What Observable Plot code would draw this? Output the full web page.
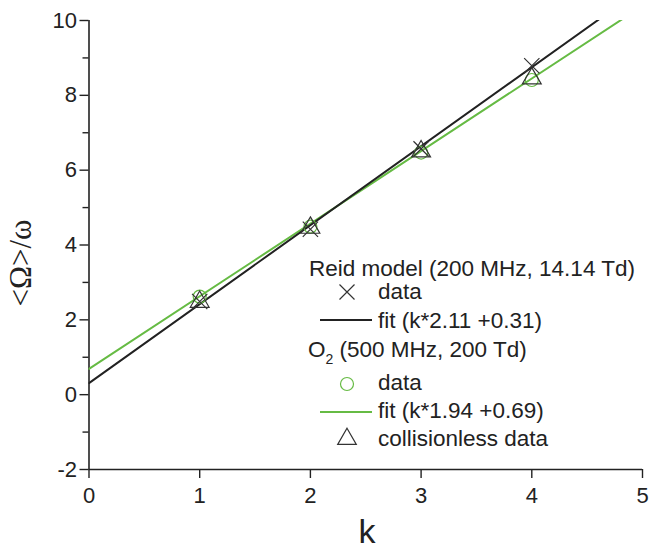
<!DOCTYPE html>
<html><head><meta charset="utf-8">
<script src="https://cdn.jsdelivr.net/npm/d3@7"></script>
<script src="https://cdn.jsdelivr.net/npm/@observablehq/plot@0.6"></script>
<style>
body{margin:0;background:#fff}
#chart{position:relative;width:649px;height:551px}
</style>
</head><body><div id="chart"></div>
<script>
// ---- data ----
const kValues = [1, 2, 3, 4];
const reidData = [2.49, 4.42, 6.57, 8.79];
const o2Data = [2.62, 4.49, 6.47, 8.41];
const collisionlessData = [2.48, 4.46, 6.50, 8.45];
const reidFitParams = [2.11, 0.31];   // slope, intercept
const o2FitParams = [1.94, 0.69];
const fitK = [0, 5];
const xTicks = [0, 1, 2, 3, 4, 5];
const yTicks = [-2, 0, 2, 4, 6, 8, 10];
const yMinorTicks = [-1, 1, 3, 5, 7, 9];
const legendHeaders = ["Reid model (200 MHz, 14.14 Td)", "O", "2", " (500 MHz, 200 Td)"];
const legendItems = ["data", "fit (k*2.11 +0.31)", "data", "fit (k*1.94 +0.69)", "collisionless data"];
const xLabel = "k";
const yLabel = "<Ω>/ω";

const GREEN = "#66bb44";
const BLACK = "#222222";

const pts = (ys) => kValues.map((k, i) => ({k, v: ys[i]}));
const fitLine = ([a, b]) => fitK.map(k => ({k, v: a * k + b}));

const W = 649, H = 551;
const plot = Plot.plot({
  width: W, height: H,
  marginLeft: 88.5, marginRight: 7, marginTop: 20, marginBottom: 82,
  style: {fontFamily: "'Liberation Sans', Arial, sans-serif", fontSize: "22px", color: BLACK, background: "#fff"},
  x: {domain: [0, 5], label: null},
  y: {domain: [-2, 10], label: null},
  marks: [
    Plot.axisX({ticks: xTicks, tickSize: 9, tickPadding: 9, strokeWidth: 1.4, label: null, tickFormat: d => String(d)}),
    Plot.axisY({ticks: yTicks, tickSize: 9, tickPadding: 3, strokeWidth: 1.4, label: null, tickFormat: d => String(d)}),
    Plot.axisY({ticks: yMinorTicks, tickSize: 6, strokeWidth: 1.4, text: null, label: null}),
    Plot.ruleX([0], {stroke: BLACK, strokeWidth: 1.6}),
    Plot.ruleY([-2], {stroke: BLACK, strokeWidth: 1.6}),
    Plot.line(fitLine(o2FitParams), {x: "k", y: "v", stroke: GREEN, strokeWidth: 2, clip: true}),
    Plot.line(fitLine(reidFitParams), {x: "k", y: "v", stroke: BLACK, strokeWidth: 2, clip: true}),
    Plot.dot(pts(o2Data), {x: "k", y: "v", r: 6.5, stroke: GREEN, strokeWidth: 1.2, fill: "none"}),
    Plot.dot(pts(collisionlessData), {x: "k", y: "v", symbol: "triangle", r: 7, stroke: "#333", strokeWidth: 1.2, fill: "none"}),
    Plot.dot(pts(reidData), {x: "k", y: "v", symbol: "times", r: 7, stroke: "#333", strokeWidth: 1.2, fill: "none"})
  ]
});
document.getElementById("chart").appendChild(plot);

const svg = d3.select(plot);
// axis labels
svg.append("text").attr("x", 367).attr("y", 543).attr("text-anchor", "middle")
  .style("font-family", "'Liberation Sans', Arial, sans-serif").style("font-size", "34px").attr("fill", BLACK).text(xLabel);
svg.append("text").attr("transform", "translate(31,263) rotate(-90)").attr("text-anchor", "middle")
  .attr("font-family", "'Times New Roman', 'Liberation Serif', serif")
  .style("font-family", "'Times New Roman', 'Liberation Serif', serif").style("font-size", "31px").attr("fill", BLACK).text(yLabel);

// legend
const lg = svg.append("g").attr("text-anchor", "start")
  .style("font-family", "'Liberation Sans', Arial, sans-serif").style("font-size", "22.5px").attr("fill", BLACK);
lg.append("text").attr("text-anchor", "start").attr("x", 309).attr("y", 276).text(legendHeaders[0]);
const o2t = lg.append("text").attr("text-anchor", "start").attr("x", 308).attr("y", 357);
o2t.append("tspan").text(legendHeaders[1]);
o2t.append("tspan").attr("dy", 7).style("font-size", "14px").text(legendHeaders[2]);
o2t.append("tspan").attr("dy", -7).text(legendHeaders[3]);
const itemY = [299, 328, 390, 418, 446];
const tx = 378;
legendItems.forEach((t, i) => lg.append("text").attr("text-anchor", "start").attr("x", tx).attr("y", itemY[i]).text(t));
// symbols
const sx = 347;
const timesR = 7.5;
lg.append("path").attr("d", `M${sx - timesR},${292 - timesR}L${sx + timesR},${292 + timesR}M${sx - timesR},${292 + timesR}L${sx + timesR},${292 - timesR}`)
  .attr("stroke", "#333").attr("stroke-width", 1.2).attr("fill", "none");
lg.append("line").attr("x1", 320).attr("x2", 372).attr("y1", 320).attr("y2", 320).attr("stroke", BLACK).attr("stroke-width", 2);
lg.append("circle").attr("cx", sx).attr("cy", 384).attr("r", 6.5).attr("stroke", GREEN).attr("stroke-width", 1.2).attr("fill", "none");
lg.append("line").attr("x1", 320).attr("x2", 372).attr("y1", 412).attr("y2", 412).attr("stroke", GREEN).attr("stroke-width", 2);
lg.append("path").attr("d", d3.symbol(d3.symbolTriangle, 150)()).attr("transform", `translate(${sx},439)`)
  .attr("stroke", "#333").attr("stroke-width", 1.2).attr("fill", "none");
</script>
</body></html>
